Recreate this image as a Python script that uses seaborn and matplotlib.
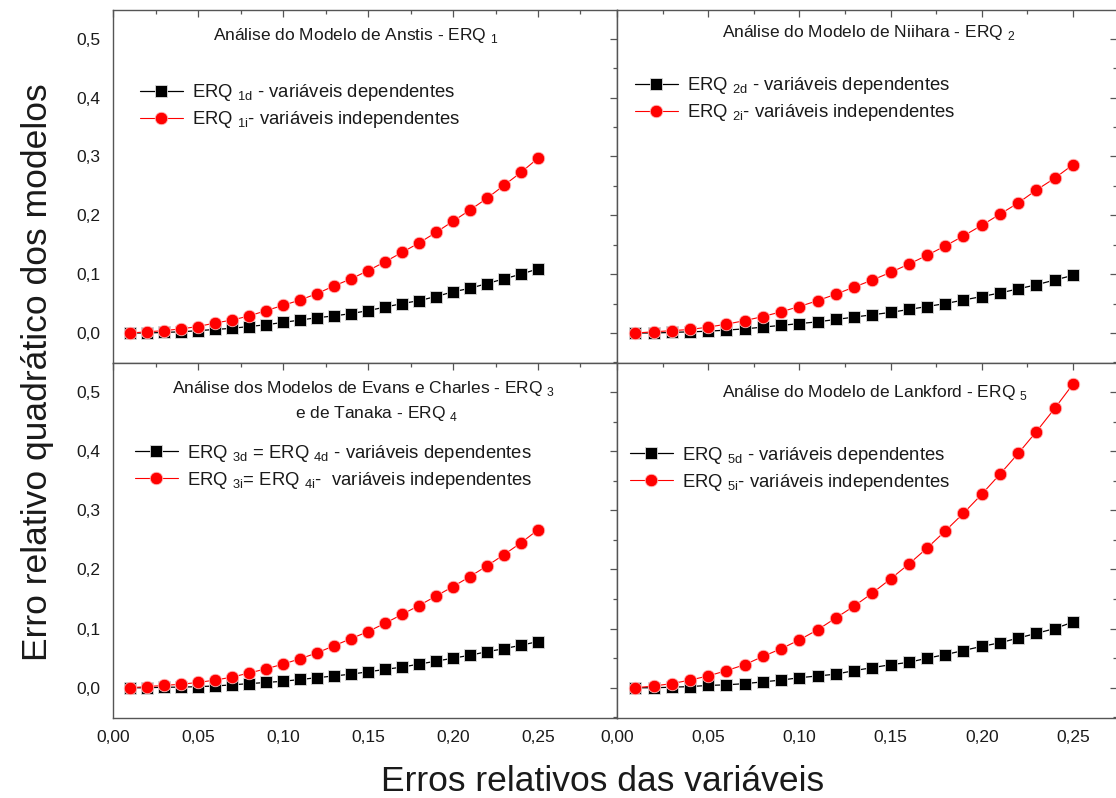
import numpy as np
import pandas as pd
import seaborn as sns
import matplotlib.pyplot as plt
from matplotlib.ticker import FuncFormatter, MultipleLocator

# erros relativos das variaveis (eixo x)
erros = [0.01, 0.02, 0.03, 0.04, 0.05, 0.06, 0.07, 0.08, 0.09, 0.10,
         0.11, 0.12, 0.13, 0.14, 0.15, 0.16, 0.17, 0.18, 0.19, 0.20,
         0.21, 0.22, 0.23, 0.24, 0.25]

# Anstis - ERQ1
erq1_d = [0.000, 0.000, 0.001, 0.002, 0.004, 0.006, 0.008, 0.011, 0.014, 0.018,
          0.022, 0.026, 0.029, 0.033, 0.038, 0.044, 0.050, 0.055, 0.062, 0.070,
          0.076, 0.084, 0.092, 0.100, 0.109]
erq1_i = [0.000, 0.002, 0.004, 0.007, 0.011, 0.017, 0.022, 0.029, 0.038, 0.047,
          0.056, 0.067, 0.080, 0.092, 0.106, 0.121, 0.137, 0.153, 0.171, 0.190,
          0.209, 0.229, 0.251, 0.273, 0.297]

# Niihara - ERQ2
erq2_d = [0.000, 0.000, 0.001, 0.002, 0.003, 0.005, 0.007, 0.010, 0.013, 0.016,
          0.019, 0.023, 0.027, 0.031, 0.035, 0.040, 0.045, 0.050, 0.056, 0.062,
          0.068, 0.075, 0.082, 0.090, 0.098]
erq2_i = [0.000, 0.002, 0.004, 0.006, 0.010, 0.015, 0.021, 0.028, 0.036, 0.045,
          0.055, 0.066, 0.078, 0.090, 0.103, 0.117, 0.132, 0.148, 0.165, 0.183,
          0.202, 0.221, 0.243, 0.263, 0.286]

# Evans e Charles / Tanaka - ERQ3 = ERQ4
erq3_d = [0.000, 0.000, 0.001, 0.001, 0.002, 0.003, 0.005, 0.007, 0.009, 0.011,
          0.014, 0.017, 0.020, 0.023, 0.027, 0.031, 0.035, 0.040, 0.045, 0.050,
          0.055, 0.061, 0.066, 0.072, 0.078]
erq3_i = [0.000, 0.002, 0.004, 0.006, 0.009, 0.013, 0.018, 0.025, 0.032, 0.040,
          0.049, 0.059, 0.071, 0.083, 0.095, 0.109, 0.124, 0.139, 0.155, 0.171,
          0.188, 0.206, 0.225, 0.245, 0.267]

# Lankford - ERQ5
erq5_d = [0.000, 0.000, 0.001, 0.002, 0.004, 0.005, 0.007, 0.010, 0.013, 0.017,
          0.020, 0.023, 0.029, 0.034, 0.039, 0.043, 0.050, 0.056, 0.063, 0.070,
          0.076, 0.084, 0.092, 0.100, 0.111]
erq5_i = [0.000, 0.003, 0.007, 0.013, 0.020, 0.029, 0.039, 0.053, 0.066, 0.081,
          0.098, 0.118, 0.138, 0.160, 0.184, 0.209, 0.236, 0.265, 0.295, 0.327,
          0.361, 0.396, 0.433, 0.472, 0.513]

sub = lambda s: r"${}_{\mathrm{" + s + "}}$"

paineis = [
    dict(d=erq1_d, i=erq1_i,
         titulo=["Análise do Modelo de Anstis - ERQ " + sub("1")],
         lab_d="ERQ " + sub("1d") + " - variáveis dependentes",
         lab_i="ERQ " + sub("1i") + "- variáveis independentes"),
    dict(d=erq2_d, i=erq2_i,
         titulo=["Análise do Modelo de Niihara - ERQ " + sub("2")],
         lab_d="ERQ " + sub("2d") + " - variáveis dependentes",
         lab_i="ERQ " + sub("2i") + "- variáveis independentes"),
    dict(d=erq3_d, i=erq3_i,
         titulo=["Análise dos Modelos de Evans e Charles - ERQ " + sub("3"),
                 "e de Tanaka - ERQ " + sub("4")],
         lab_d="ERQ " + sub("3d") + " = ERQ " + sub("4d") + " - variáveis dependentes",
         lab_i="ERQ " + sub("3i") + "= ERQ " + sub("4i") + "-  variáveis independentes"),
    dict(d=erq5_d, i=erq5_i,
         titulo=["Análise do Modelo de Lankford - ERQ " + sub("5")],
         lab_d="ERQ " + sub("5d") + " - variáveis dependentes",
         lab_i="ERQ " + sub("5i") + "- variáveis independentes"),
]

sns.set_style("white")
plt.rcParams['font.family'] = ['Liberation Sans', 'DejaVu Sans']
plt.rcParams['mathtext.fontset'] = 'custom'
plt.rcParams['mathtext.rm'] = 'Liberation Sans'
plt.rcParams['text.color'] = '#1a1a1a'

fig = plt.figure(figsize=(11.16, 7.98), dpi=100)

# posicoes dos quatro paineis (sem espaco entre eles)
posicoes = [
    [0.1013, 0.5451, 0.4516, 0.4424],
    [0.5529, 0.5451, 0.4480, 0.4424],
    [0.1013, 0.1003, 0.4516, 0.4449],
    [0.5529, 0.1003, 0.4480, 0.4449],
]
xlims = [0.2965, 0.2742, 0.2965, 0.2742]
titulo_pos = [[(0.482, 0.929)], [(0.504, 0.935)],
              [(0.497, 0.928), (0.522, 0.857)], [(0.516, 0.918)]]
leg_pos = [(0.053, 0.795), (0.035, 0.815), (0.043, 0.775), (0.025, 0.77)]

cinza = '#555555'
for k, (p, pos) in enumerate(zip(paineis, posicoes)):
    ax = fig.add_axes(pos)
    sns.lineplot(x=erros, y=p['d'], ax=ax, color='black', marker='s', markersize=8.5,
                 markeredgecolor='#dddddd', markeredgewidth=0.6, linewidth=0.9,
                 label=p['lab_d'], zorder=3)
    sns.lineplot(x=erros, y=p['i'], ax=ax, color='#ff0000', marker='o', markersize=9,
                 markeredgecolor='#ffbbbb', markeredgewidth=0.6, linewidth=0.8,
                 label=p['lab_i'], zorder=4)
    ax.set_xlim(0, xlims[k])
    ax.set_ylim(-0.051, 0.549)
    ax.xaxis.set_major_locator(MultipleLocator(0.05))
    ax.xaxis.set_minor_locator(MultipleLocator(0.025))
    ax.yaxis.set_major_locator(MultipleLocator(0.1))
    ax.yaxis.set_minor_locator(MultipleLocator(0.05))
    ax.xaxis.set_major_formatter(FuncFormatter(lambda v, _: f"{v:.2f}".replace('.', ',')))
    ax.yaxis.set_major_formatter(FuncFormatter(lambda v, _: f"{v:.1f}".replace('.', ',')))
    ax.tick_params(which='both', direction='out', color=cinza, labelsize=12.5,
                   labelcolor='#1a1a1a', width=0.9)
    ax.tick_params(which='major', length=5, pad=4)
    ax.tick_params(which='minor', length=3)
    ax.tick_params(labelbottom=(k >= 2), labelleft=(k % 2 == 0))
    for s in ax.spines.values():
        s.set_color(cinza)
        s.set_linewidth(1.0)
    # marcas internas no topo e na direita
    top = ax.secondary_xaxis('top')
    top.xaxis.set_major_locator(MultipleLocator(0.05))
    top.xaxis.set_minor_locator(MultipleLocator(0.025))
    top.tick_params(which='both', direction='in', labeltop=False, color=cinza, width=0.9)
    top.tick_params(which='major', length=5)
    top.tick_params(which='minor', length=3)
    top.spines['top'].set_visible(False)
    right = ax.secondary_yaxis('right')
    right.yaxis.set_major_locator(MultipleLocator(0.1))
    right.yaxis.set_minor_locator(MultipleLocator(0.05))
    right.tick_params(which='both', direction='in', labelright=False, color=cinza, width=0.9)
    right.tick_params(which='major', length=5)
    right.tick_params(which='minor', length=3)
    right.spines['right'].set_visible(False)

    for linha, (tx, ty) in zip(p['titulo'], titulo_pos[k]):
        ax.text(tx, ty, linha, transform=ax.transAxes, ha='center', va='center',
                fontsize=12.5)
    ax.legend(loc='upper left', bbox_to_anchor=leg_pos[k], frameon=False, fontsize=13.3,
              handlelength=2.35, handletextpad=0.5, borderpad=0, borderaxespad=0,
              labelspacing=0.33)

fig.text(0.034, 0.534, "Erro relativo quadrático dos modelos", rotation=90,
         ha='center', va='center', fontsize=25.5)
fig.text(0.540, 0.021, "Erros relativos das variáveis", ha='center', va='center',
         fontsize=25.5)

fig.savefig("out.png", dpi=100)
